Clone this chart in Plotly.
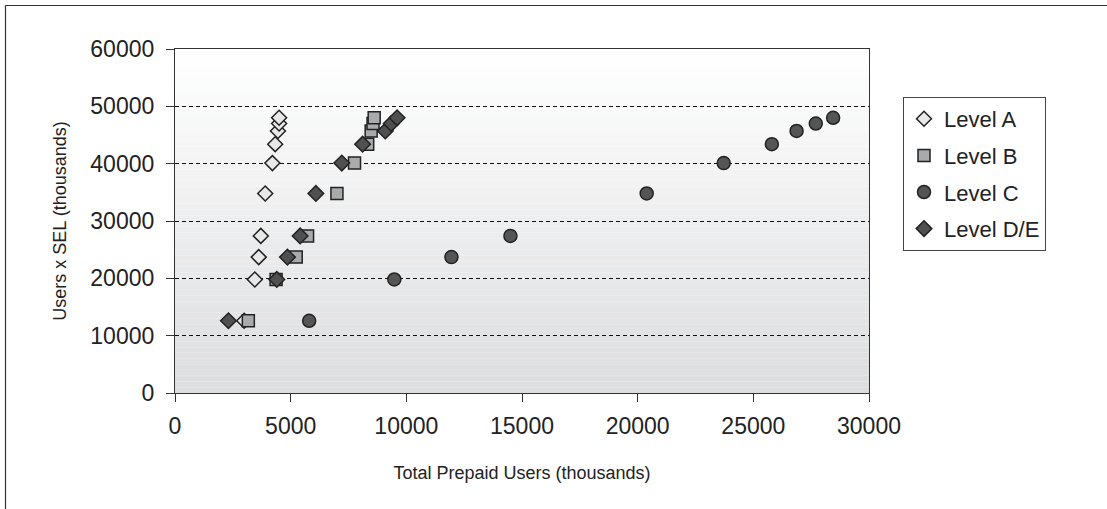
import plotly.graph_objects as go

# ---- data ----
y_vals = [12600, 19800, 23700, 27400, 34800, 40100, 43400, 45700, 47000, 48000]
level_a_x = [2990, 3450, 3620, 3710, 3900, 4210, 4330, 4450, 4500, 4500]
level_b_x = [3170, 4370, 5240, 5730, 7000, 7760, 8330, 8480, 8560, 8610]
level_c_x = [5800, 9480, 11950, 14500, 20390, 23720, 25800, 26870, 27700, 28450]
level_de_x = [2310, 4400, 4860, 5410, 6090, 7210, 8110, 9090, 9350, 9600]
series_names = ["Level A", "Level B", "Level C", "Level D/E"]
x_ticks = [0, 5000, 10000, 15000, 20000, 25000, 30000]
y_ticks = [0, 10000, 20000, 30000, 40000, 50000, 60000]

W, H = 1107, 509
L, R, T, B = 175, 869, 49, 393

fig = go.Figure()
styles = [
    dict(symbol="diamond", size=11.5, color="#e8e8e8"),
    dict(symbol="square", size=12, color="#a9aaac"),
    dict(symbol="circle", size=13, color="#555555"),
    dict(symbol="diamond", size=12, color="#505050"),
]
for name, xs, st in zip(series_names, [level_a_x, level_b_x, level_c_x, level_de_x], styles):
    fig.add_trace(go.Scatter(
        x=xs, y=y_vals, mode="markers", name=name, legendgroup=name,
        marker=dict(symbol=st["symbol"], size=st["size"], color=st["color"],
                    line=dict(color="#222222", width=1.5)),
    ))

# gradient background (style only)
shapes = []
n = 60
for i in range(n):
    f = i / (n - 1)
    c0 = (255, 255, 255)
    c1 = (220, 221, 223)
    col = tuple(round(c0[k] + (c1[k] - c0[k]) * f) for k in range(3))
    shapes.append(dict(type="rect", xref="x domain", yref="y domain",
                       x0=0, x1=1, y0=1 - (i + 1) / n, y1=1 - i / n,
                       fillcolor="rgb(%d,%d,%d)" % col, line=dict(width=0), layer="below"))

def px(x):
    return (x - L) / (R - L)

def py(y):
    return (B - y) / (B - T)

# outer frame (left & top edges visible)
shapes.append(dict(type="line", xref="paper", yref="paper", x0=px(5.5), x1=px(1110),
                   y0=py(5.5), y1=py(5.5), line=dict(color="#333333", width=1.2)))
shapes.append(dict(type="line", xref="paper", yref="paper", x0=px(5.5), x1=px(5.5),
                   y0=py(5.5), y1=py(515), line=dict(color="#333333", width=1.2)))

fig.update_layout(
    width=W, height=H,
    margin=dict(l=L, r=W - R, t=T, b=H - B),
    paper_bgcolor="white", plot_bgcolor="white",
    font=dict(family="Liberation Sans, Arial, sans-serif", color="#222222"),
    shapes=shapes,
    showlegend=True,
    legend=dict(x=px(903), y=py(97), xanchor="left", yanchor="top",
                bordercolor="#444444", borderwidth=1, bgcolor="white",
                font=dict(size=22, color="#222222"), itemwidth=30,
                tracegroupgap=5, traceorder="grouped"),
)
fig.update_xaxes(range=[0, 30000], tickvals=x_ticks, ticktext=[str(v) for v in x_ticks],
                 showgrid=False, zeroline=False, showline=True, linecolor="#333333",
                 linewidth=1.2, mirror=True, ticks="outside", ticklen=8, tickcolor="#333333",
                 tickfont=dict(size=23), ticklabelstandoff=4,
                 title=dict(text="Total Prepaid Users (thousands)", font=dict(size=18), standoff=28))
fig.update_yaxes(range=[0, 60000], tickvals=y_ticks, ticktext=[str(v) for v in y_ticks],
                 showgrid=True, gridcolor="#111111", gridwidth=1, griddash="4px,3px",
                 zeroline=False, showline=True, linecolor="#333333",
                 linewidth=1.2, mirror=True, ticks="outside", ticklen=8, tickcolor="#333333",
                 tickfont=dict(size=23), ticklabelstandoff=7,
                 title=dict(text="Users x SEL (thousands)", font=dict(size=18), standoff=19))

fig.write_html("out.html")
